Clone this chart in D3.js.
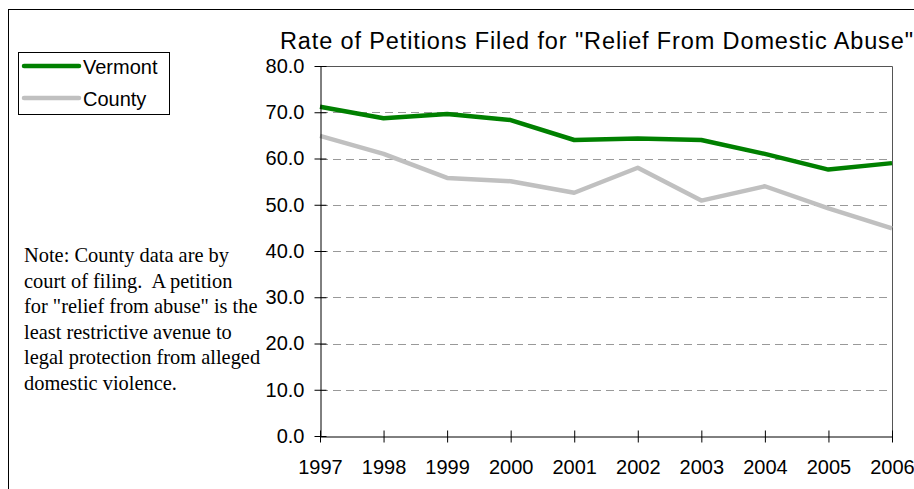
<!DOCTYPE html>
<html>
<head>
<meta charset="utf-8">
<script src="https://cdn.jsdelivr.net/npm/d3@7"></script>
<style>
  html, body { margin: 0; padding: 0; background: #fff; }
  svg { display: block; }
</style>
</head>
<body>
<svg id="chart" width="914" height="489"></svg>
<script>
const years = [1997, 1998, 1999, 2000, 2001, 2002, 2003, 2004, 2005, 2006];
const vermont = [71.2, 68.7, 69.6, 68.3, 64.0, 64.3, 64.0, 61.0, 57.6, 59.0];
const county  = [64.9, 61.0, 55.8, 55.1, 52.6, 58.0, 50.9, 54.0, 49.2, 44.9];
const yTicks = [0, 10, 20, 30, 40, 50, 60, 70, 80];
const seriesNames = ["Vermont", "County"];
const seriesColors = ["#008000", "#c0c0c0"];
const title = "Rate of Petitions Filed for \"Relief From Domestic Abuse\"";
const noteLines = [
  "Note: County data are by",
  "court of filing.  A petition",
  "for \"relief from abuse\" is the",
  "least restrictive avenue to",
  "legal protection from alleged",
  "domestic violence."
];

(function () {
const svg = d3.select("#chart");
const sans = "Arial, 'Liberation Sans', sans-serif";
const serif = "'Times New Roman', 'Liberation Serif', serif";

// outer frame
svg.append("rect").attr("x", 8.5).attr("y", 9.5).attr("width", 1000).attr("height", 1000)
  .attr("fill", "none").attr("stroke", "#000").attr("stroke-width", 1);

const pLeft = 320, pRight = 892, pTop = 66, pBottom = 436;
const x = d3.scaleLinear().domain([years[0], years[years.length - 1]]).range([pLeft, pRight]);
const y = d3.scaleLinear().domain([0, 80]).range([pBottom, pTop]);

// gridlines
svg.append("g").selectAll("line").data(yTicks.filter(d => d > 0 && d < 80)).join("line")
  .attr("x1", pLeft).attr("x2", pRight)
  .attr("y1", d => Math.round(y(d)) + 0.5).attr("y2", d => Math.round(y(d)) + 0.5)
  .attr("stroke", "#999").attr("stroke-width", 1).attr("stroke-dasharray", "8,5");

// top and right borders
svg.append("line").attr("x1", pLeft).attr("x2", pRight + 0.5)
  .attr("y1", Math.round(y(80)) + 0.5).attr("y2", Math.round(y(80)) + 0.5)
  .attr("stroke", "#555").attr("stroke-width", 1);
svg.append("line").attr("x1", pRight + 0.5).attr("x2", pRight + 0.5)
  .attr("y1", Math.round(y(80)) + 0.5).attr("y2", pBottom)
  .attr("stroke", "#555").attr("stroke-width", 1);

// lines
const lineGen = d3.line().x((d, i) => x(years[i])).y(d => y(d));
[vermont, county].forEach((vals, k) => {
  svg.append("path").datum(vals).attr("d", lineGen)
    .attr("fill", "none").attr("stroke", seriesColors[k]).attr("stroke-width", 4.5)
    .attr("stroke-linejoin", "round");
});

// y axis
const yAxis = d3.axisLeft(y).tickValues(yTicks).tickFormat(d3.format(".1f"))
  .tickSizeInner(6).tickSizeOuter(0).tickPadding(10);
const gy = svg.append("g").attr("transform", `translate(${pLeft + 0.5},0)`).call(yAxis);
gy.select(".domain").attr("stroke", "#000");
gy.selectAll(".tick line").attr("x1", 6).attr("x2", -6).attr("stroke", "#000");
gy.selectAll(".tick text").attr("font-family", sans).attr("font-size", 20).attr("fill", "#000");

// x axis
const xAxis = d3.axisBottom(x).tickValues(years).tickFormat(d3.format("d"))
  .tickSizeInner(6).tickSizeOuter(0).tickPadding(17);
const gx = svg.append("g").attr("transform", `translate(0,${pBottom + 0.5})`).call(xAxis);
gx.select(".domain").attr("stroke", "#000");
gx.selectAll(".tick line").attr("y1", -6).attr("y2", 6).attr("stroke", "#000");
gx.selectAll(".tick text").attr("font-family", sans).attr("font-size", 20).attr("fill", "#000");

// title
svg.append("text").attr("x", 280).attr("y", 49).text(title)
  .attr("font-family", sans).attr("font-size", 23.5).attr("fill", "#000")
  .attr("textLength", 633).attr("lengthAdjust", "spacing");

// legend
svg.append("rect").attr("x", 18.5).attr("y", 52.5).attr("width", 151).attr("height", 62)
  .attr("fill", "#fff").attr("stroke", "#000").attr("stroke-width", 1);
seriesNames.forEach((name, i) => {
  const ly = 66 + i * 32;
  svg.append("line").attr("x1", 24).attr("x2", 79).attr("y1", ly).attr("y2", ly)
    .attr("stroke", seriesColors[i]).attr("stroke-width", 4.5).attr("stroke-linecap", "round");
  svg.append("text").attr("x", 83).attr("y", ly + 8).text(name)
    .attr("font-family", sans).attr("font-size", 20).attr("fill", "#000");
});

// note
const note = svg.append("text").attr("font-family", serif).attr("font-size", 20.4)
  .attr("fill", "#000").style("white-space", "pre");
noteLines.forEach((t, i) => {
  note.append("tspan").attr("x", 24).attr("y", 262 + i * 25.5).text(t);
});
})();
</script>
</body>
</html>
